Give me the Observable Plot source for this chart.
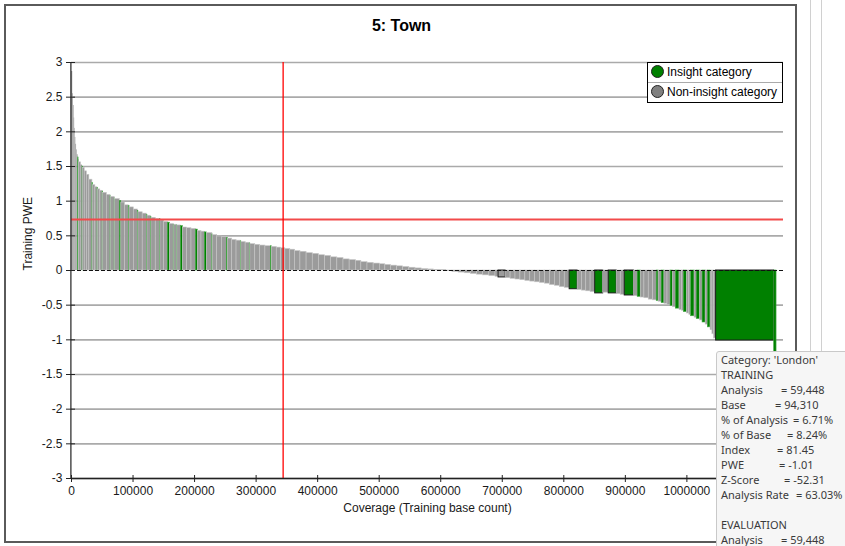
<!DOCTYPE html>
<html><head><meta charset="utf-8">
<script src="https://cdn.jsdelivr.net/npm/d3@7"></script>
<script src="https://cdn.jsdelivr.net/npm/@observablehq/plot@0.6"></script>
<style>
html,body{margin:0;padding:0;background:#fff;}
#root{position:relative;width:845px;height:546px;overflow:hidden;background:#fff;font-family:"Liberation Sans",Arial,sans-serif;}
#frame{position:absolute;left:4px;top:4px;width:793px;height:539px;border:2px solid #5a5a5a;box-sizing:border-box;}
.vline{position:absolute;top:0;height:546px;width:1px;background:#d0d0d0;}
#title{position:absolute;left:0;top:17px;width:803px;text-align:center;font-weight:bold;font-size:16px;color:#000;}
#chart{position:absolute;left:0;top:0;}
#legend{position:absolute;left:647px;top:62px;width:136px;height:41px;border:1px solid #000;box-sizing:border-box;background:#fff;font-size:12px;color:#000;}
#legend .row{position:absolute;left:0;width:100%;height:20px;}
#legend .dot{position:absolute;left:3px;top:2px;width:13px;height:13px;border-radius:50%;border:1.5px solid #222;box-sizing:border-box;}
#legend .lbl{position:absolute;left:19px;top:2px;white-space:nowrap;}
#legend .sep{position:absolute;left:0;top:19px;width:100%;height:1px;background:#aaa;}
#tip{position:absolute;left:716px;top:351px;width:135px;height:200px;background:#f6f6f6;border:1px solid #c9c9c9;border-radius:3px;box-sizing:border-box;font-family:"Noto Sans","Open Sans",sans-serif;font-size:11px;line-height:15px;color:#3a3a3a;}
#tip .r{position:absolute;left:0;height:15px;width:100%;white-space:nowrap;}
#tip .k{position:absolute;left:4px;top:0;}
#tip .v{position:absolute;top:0;}
</style></head>
<body>
<div id="root">
  <div id="frame"></div>
  <div class="vline" style="left:810px"></div>
  <div class="vline" style="left:821px"></div>
  <div id="chart"></div>
  <div id="title">5: Town</div>
  <div id="legend">
    <div class="row" style="top:0"><div class="dot" style="background:#008000"></div><div class="lbl">Insight category</div></div>
    <div class="sep"></div>
    <div class="row" style="top:20px"><div class="dot" style="background:#808080"></div><div class="lbl">Non-insight category</div></div>
  </div>
  <div id="tip">
    <div class="r" style="top:0px"><span class="k">Category: 'London'</span></div>
    <div class="r" style="top:15px"><span class="k">TRAINING</span></div>
    <div class="r" style="top:30px"><span class="k">Analysis</span><span class="v" style="left:64px">= 59,448</span></div>
    <div class="r" style="top:45px"><span class="k">Base</span><span class="v" style="left:58px">= 94,310</span></div>
    <div class="r" style="top:60px"><span class="k">% of Analysis</span><span class="v" style="left:76px">= 6.71%</span></div>
    <div class="r" style="top:75px"><span class="k">% of Base</span><span class="v" style="left:70px">= 8.24%</span></div>
    <div class="r" style="top:90px"><span class="k">Index</span><span class="v" style="left:60px">= 81.45</span></div>
    <div class="r" style="top:105px"><span class="k">PWE</span><span class="v" style="left:62px">= -1.01</span></div>
    <div class="r" style="top:120px"><span class="k">Z-Score</span><span class="v" style="left:67px">= -52.31</span></div>
    <div class="r" style="top:135px"><span class="k">Analysis Rate</span><span class="v" style="left:79px">= 63.03%</span></div>
    <div class="r" style="top:165px"><span class="k">EVALUATION</span></div>
    <div class="r" style="top:180px"><span class="k">Analysis</span><span class="v" style="left:64px">= 59,448</span></div>
  </div>
</div>
<script>
// Base count (coverage width) of each town category, sorted by training PWE
const baseCounts = [
  2000,1200,1000,900,900,1000,1200,1000,1500,
  800,1000,3000,2400,800,2800,3500,4000,5000,
  800,4000,3500,800,3700,3800,800,6000,6000,
  900,5800,800,7500,2500,6000,6500,900,7000,
  6500,900,7000,6800,900,5600,900,7000,6700,
  900,6000,6000,3300,6300,900,4000,900,5800,
  3300,7000,7000,7000,3200,6000,5400,3300,9000,
  900,7000,8000,7600,1800,7000,7000,6900,900,
  7000,6700,900,8000,8000,8500,8800,1600,8000,
  7000,7000,8000,8000,8500,10000,10000,10000,10000,
  10000,10000,10000,10000,10000,9000,10000,10000,10000,
  9000,9000,10000,10000,10000,10000,10000,10000,10000,10000,10000,
  10000,10000,10000,10000,10000,10000,10000,10000,5000,
  11500,8000,8000,8000,8000,8000,8000,8000,8000,
  8000,8000,8000,8000,8000,13000,7000,7000,7000,
  7500,13000,9000,13000,6500,6500,15000,6000,5000,
  6000,7000,7000,6000,3000,5000,4500,5000,5000,
  4000,4500,6000,4000,3000,5000,4000,3000,5500,
  3500,5500,4000,5000,3500,4500,3000,2500,3500,
  94310,3900
];
// Training PWE of each category
const pweValues = [
  2.87,2.55,2.38,2.20,2.05,1.92,1.82,1.74,1.67,
  1.63,1.60,1.56,1.52,1.50,1.48,1.43,1.38,1.31,
  1.26,1.23,1.20,1.19,1.17,1.15,1.14,1.12,1.09,
  1.07,1.06,1.04,1.03,1.00,0.98,0.94,0.93,0.91,
  0.88,0.86,0.84,0.82,0.80,0.79,0.77,0.76,0.74,
  0.74,0.72,0.70,0.69,0.67,0.66,0.66,0.65,0.65,
  0.64,0.62,0.61,0.60,0.59,0.57,0.56,0.55,0.54,
  0.52,0.51,0.49,0.48,0.47,0.46,0.44,0.43,0.42,
  0.41,0.40,0.39,0.38,0.37,0.36,0.35,0.35,0.34,
  0.33,0.32,0.31,0.30,0.28,0.27,0.25,0.24,0.22,
  0.21,0.19,0.18,0.16,0.15,0.14,0.12,0.11,0.10,
  0.09,0.08,0.07,0.06,0.05,0.04,0.03,0.02,0.015,0.01,0.005,
  -0.01,-0.02,-0.03,-0.04,-0.05,-0.06,-0.07,-0.08,-0.09,
  -0.10,-0.11,-0.12,-0.13,-0.14,-0.15,-0.16,-0.17,-0.18,
  -0.19,-0.21,-0.22,-0.24,-0.25,-0.27,-0.28,-0.29,-0.30,
  -0.31,-0.33,-0.32,-0.33,-0.34,-0.35,-0.36,-0.37,-0.38,
  -0.39,-0.40,-0.42,-0.43,-0.44,-0.45,-0.47,-0.48,-0.50,
  -0.51,-0.53,-0.55,-0.57,-0.58,-0.60,-0.62,-0.64,-0.66,
  -0.68,-0.70,-0.72,-0.75,-0.78,-0.82,-0.86,-0.92,-0.98,
  -1.01,-1.25
];
// 1 = insight category, 0 = non-insight category
const insightFlags = [
  0,0,0,0,0,0,0,0,0,
  1,0,0,0,1,0,0,0,0,
  1,0,0,1,0,0,1,0,0,
  1,0,1,0,1,0,0,1,0,
  0,1,0,0,1,0,1,0,0,
  1,0,0,1,0,1,0,1,0,
  1,0,0,0,1,0,0,1,0,
  1,0,0,0,1,0,0,0,1,
  0,0,1,0,0,0,0,1,0,
  0,0,0,0,0,0,0,0,0,
  0,0,0,0,0,0,0,0,0,
  0,0,0,0,0,0,0,0,0,0,0,
  0,0,0,0,0,0,0,0,0,
  0,0,0,0,0,0,0,0,0,
  0,0,0,0,0,1,0,0,0,
  0,1,0,1,0,0,1,0,1,
  0,0,0,0,1,0,1,0,0,
  1,0,1,0,0,1,0,0,1,
  0,1,0,1,0,1,0,0,0,
  1,1
];
const yTicks = [-3,-2.5,-2,-1.5,-1,-0.5,0,0.5,1,1.5,2,2.5,3];
const xTicks = [0,100000,200000,300000,400000,500000,600000,700000,800000,900000,1000000];
const cutoffPWE = 0.735;
const cutoffCoverage = 343900;
const coverageMax = 1157000;

let acc = 0;
const bars = baseCounts.map((b, i) => {
  const x1 = acc; acc += b;
  return {x1, x2: acc, base: b, pwe: pweValues[i], insight: insightFlags[i] === 1};
});
const wide = d => d.base >= 11000;
const strokeOf = d => wide(d) ? "#1a1a1a" : d.insight ? "#44a844" : (d.base < 2500 ? "none" : "#c6c6c6");

const chart = Plot.plot({
  width: 800, height: 546,
  marginLeft: 71, marginRight: 17, marginTop: 62, marginBottom: 68,
  style: {fontFamily: '"Liberation Sans", Arial, sans-serif', fontSize: "12px", color: "#1a1a1a", background: "transparent", overflow: "visible"},
  x: {domain: [0, coverageMax]},
  y: {domain: [-3, 3]},
  marks: [
    Plot.ruleY(yTicks.filter(v => v !== 0), {stroke: "#aaaaaa", strokeWidth: 1.6}),
    Plot.rectY(bars, {
      x1: "x1", x2: "x2", y1: 0, y2: "pwe",
      fill: d => d.insight ? "#008000" : "#9b9b9b",
      stroke: strokeOf,
      strokeWidth: d => wide(d) ? 1 : 0.6
    }),
    Plot.ruleY([0], {stroke: "#111", strokeWidth: 1.2, strokeDasharray: "4,2"}),
    Plot.ruleY([cutoffPWE], {stroke: "#f24a4a", strokeWidth: 2}),
    Plot.ruleX([cutoffCoverage], {stroke: "#ff0000", strokeWidth: 1.3}),
    Plot.ruleX([0], {stroke: "#222", strokeWidth: 1.2, dx: -0.6}),
    Plot.ruleY([-3], {stroke: "#222", strokeWidth: 1.5}),
    Plot.axisY(yTicks, {tickSize: 9, dx: 4, tickPadding: 4, tickFormat: d => String(d), label: null, stroke: "#222"}),
    Plot.axisX(xTicks, {tickSize: 7, dy: -3, tickPadding: 4, tickFormat: d => String(d), label: null, stroke: "#222"}),
    Plot.text(["Training PWE"], {frameAnchor: "left", rotate: -90, dx: -43, fontSize: 12, fill: "#1a1a1a"}),
    Plot.text(["Coverage (Training base count)"], {frameAnchor: "bottom", dy: 33, fontSize: 12, fill: "#1a1a1a"})
  ]
});
document.getElementById("chart").appendChild(chart);
</script>
</body></html>
